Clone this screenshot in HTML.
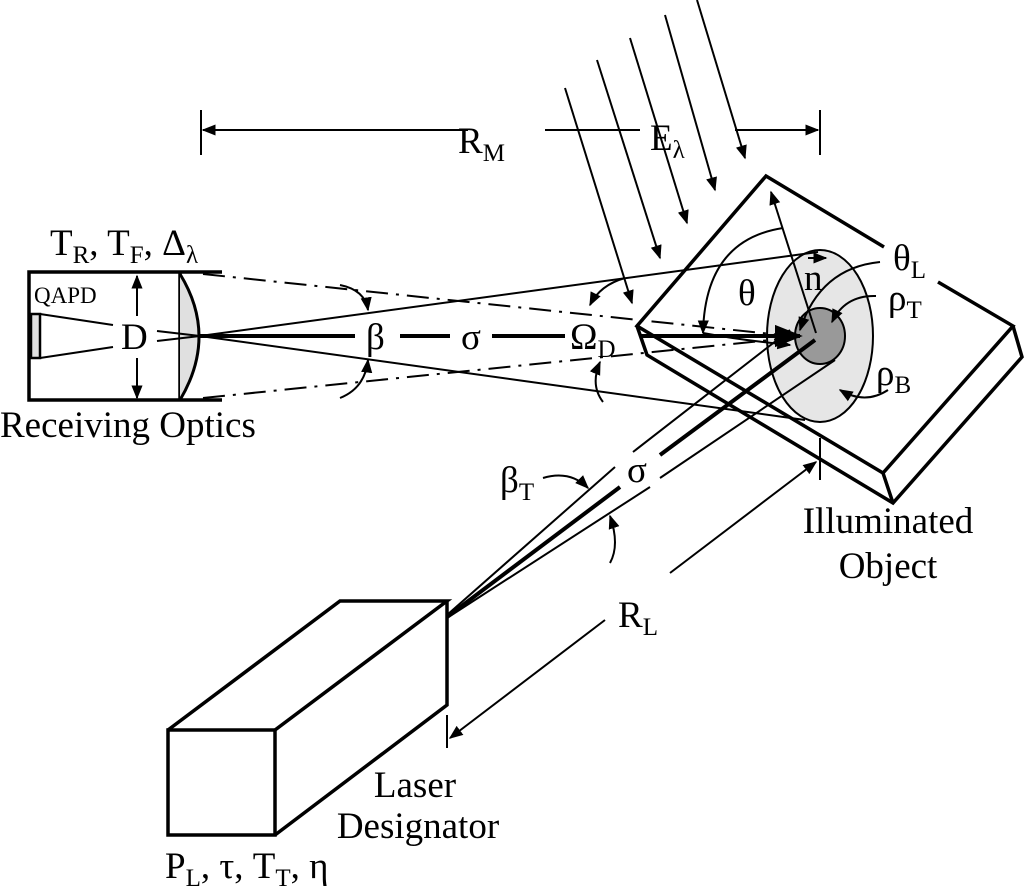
<!DOCTYPE html>
<html><head><meta charset="utf-8"><style>
body{margin:0;background:#fff}
svg{display:block}
text{font-family:"Liberation Serif",serif;fill:#000}
</style></head><body>
<svg width="1025" height="888" viewBox="0 0 1025 888">
<defs>
<marker id="ah" viewBox="0 0 10 10" refX="9" refY="5" markerWidth="7" markerHeight="7" orient="auto-start-reverse"><path d="M0,1 L10,5 L0,9 z" fill="#000"/></marker>
</defs>
<g stroke="#000" fill="none" stroke-width="2">
<g>
<line x1="201" y1="110" x2="201" y2="155"/>
<line x1="820" y1="110" x2="820" y2="155"/>
<line x1="203" y1="130" x2="468" y2="130" marker-start="url(#ah)"/>
<line x1="545" y1="130" x2="640" y2="130"/>
<line x1="735" y1="130" x2="818" y2="130" marker-end="url(#ah)"/>
</g>
<g>
<line x1="565" y1="88" x2="632" y2="303" marker-end="url(#ah)"/>
<line x1="597" y1="60" x2="660" y2="258" marker-end="url(#ah)"/>
<line x1="630" y1="38" x2="687" y2="223" marker-end="url(#ah)"/>
<line x1="665" y1="15" x2="715" y2="190" marker-end="url(#ah)"/>
<line x1="697" y1="0" x2="745" y2="158" marker-end="url(#ah)"/>
</g>
<g stroke-width="3.5">
<path d="M884,247 L766,176 L637,326 L883,473 L1013,326 L938,282"/>
<path d="M637,326 L647,355 L893,503 L1022,357 L1013,326 M883,473 L893,503"/>
</g>
<ellipse cx="820" cy="336" rx="53" ry="86" fill="#e6e6e6"/>
<ellipse cx="820" cy="336" rx="25" ry="28" fill="#999"/>
<g>
<path d="M222,272 L29,272 L29,400 L222,400" stroke-width="3.5"/>
<line x1="180" y1="272" x2="180" y2="400" stroke-width="3.5"/>
<path d="M180,274 Q218,336 180,400" fill="#e0e0e0" stroke-width="3"/>
<rect x="31" y="314" width="9" height="44" fill="#e0e0e0" stroke-width="2.5"/>
<line x1="40" y1="314" x2="113" y2="325"/>
<line x1="40" y1="358" x2="113" y2="347"/>
<line x1="157" y1="331" x2="200" y2="336"/>
<line x1="157" y1="341" x2="200" y2="336"/>
<line x1="137" y1="316" x2="137" y2="276" marker-end="url(#ah)"/>
<line x1="137" y1="358" x2="137" y2="398" marker-end="url(#ah)"/>
</g>
<g>
<line x1="203" y1="274" x2="800" y2="337" stroke-dasharray="22,8,3,8"/>
<line x1="203" y1="398" x2="800" y2="337" stroke-dasharray="22,8,3,8"/>
<line x1="200" y1="336" x2="818" y2="252"/>
<line x1="200" y1="336" x2="805" y2="420"/>
<line x1="200" y1="336" x2="355" y2="336" stroke-width="4"/>
<line x1="400" y1="336" x2="450" y2="336" stroke-width="4"/>
<line x1="492" y1="336" x2="565" y2="336" stroke-width="4"/>
<line x1="640" y1="336" x2="800" y2="336" stroke-width="4" marker-end="url(#ah)"/>
<path d="M340,285 Q365,290 368,310" marker-end="url(#ah)"/>
<path d="M340,398 Q365,388 368,360" marker-end="url(#ah)"/>
<path d="M590,305 Q600,285 625,278" marker-start="url(#ah)"/>
<path d="M603,402 Q590,385 600,362" marker-end="url(#ah)"/>
</g>
<g>
<line x1="816" y1="333" x2="771" y2="192" marker-end="url(#ah)"/>
<path d="M783,228 Q705,240 703,333" marker-end="url(#ah)"/>
<path d="M880,262 Q820,268 800,330" marker-end="url(#ah)"/>
<path d="M876,296 Q845,295 832,322" marker-end="url(#ah)"/>
<path d="M888,390 Q865,405 840,390" marker-end="url(#ah)"/>
<path d="M703,333 Q740,340 790,345" marker-end="url(#ah)"/>
</g>
<g>
<line x1="447" y1="615" x2="615" y2="467"/>
<line x1="633" y1="452" x2="790" y2="330"/>
<line x1="447" y1="617" x2="620" y2="487" stroke-width="4"/>
<line x1="660" y1="455" x2="815" y2="340" stroke-width="4"/>
<line x1="447" y1="618" x2="650" y2="487"/>
<line x1="660" y1="478" x2="835" y2="360"/>
<path d="M543,478 Q570,470 588,488" marker-end="url(#ah)"/>
<path d="M610,563 Q620,545 610,516" marker-end="url(#ah)"/>
</g>
<g>
<line x1="447" y1="715" x2="447" y2="748"/>
<line x1="820" y1="438" x2="820" y2="480"/>
<line x1="605" y1="620" x2="450" y2="738" marker-end="url(#ah)"/>
<line x1="670" y1="573" x2="816" y2="462" marker-end="url(#ah)"/>
</g>
<g stroke-width="3.5">
<rect x="168" y="730" width="107" height="105"/>
<path d="M168,730 L340,601 L447,601 L275,730 M447,601 L447,705 L275,835"/>
</g>
</g>
<g font-size="37">
<text x="458" y="153">R<tspan font-size="25" dy="8">M</tspan></text>
<text x="650" y="150">E<tspan font-size="25" dy="8">λ</tspan></text>
<text x="50" y="255">T<tspan font-size="25" dy="8">R</tspan><tspan dy="-8">, T</tspan><tspan font-size="25" dy="8">F</tspan><tspan dy="-8">, Δ</tspan><tspan font-size="25" dy="8">λ</tspan></text>
<text x="34" y="303" font-size="23">QAPD</text>
<text x="121" y="349">D</text>
<text x="0" y="437">Receiving Optics</text>
<text x="366" y="349">β</text>
<text x="461" y="349">σ</text>
<text x="570" y="349">Ω<tspan font-size="25" dy="8">D</tspan></text>
<text x="738" y="305">θ</text>
<text x="804" y="290">n</text>
<text x="893" y="270">θ<tspan font-size="25" dy="8">L</tspan></text>
<text x="888" y="310">ρ<tspan font-size="25" dy="8">T</tspan></text>
<text x="876" y="385">ρ<tspan font-size="25" dy="8">B</tspan></text>
<text x="500" y="492">β<tspan font-size="25" dy="8">T</tspan></text>
<text x="627" y="482">σ</text>
<text x="618" y="627">R<tspan font-size="25" dy="8">L</tspan></text>
<text x="888" y="533" text-anchor="middle">Illuminated</text>
<text x="888" y="578" text-anchor="middle">Object</text>
<text x="415" y="797" text-anchor="middle">Laser</text>
<text x="418" y="838" text-anchor="middle">Designator</text>
<text x="165" y="878">P<tspan font-size="25" dy="8">L</tspan><tspan dy="-8">, τ, T</tspan><tspan font-size="25" dy="8">T</tspan><tspan dy="-8">, η</tspan></text>
</g>
<line x1="808" y1="258" x2="826" y2="258" stroke="#000" stroke-width="2" marker-end="url(#ah)"/>
</svg>
</body></html>
